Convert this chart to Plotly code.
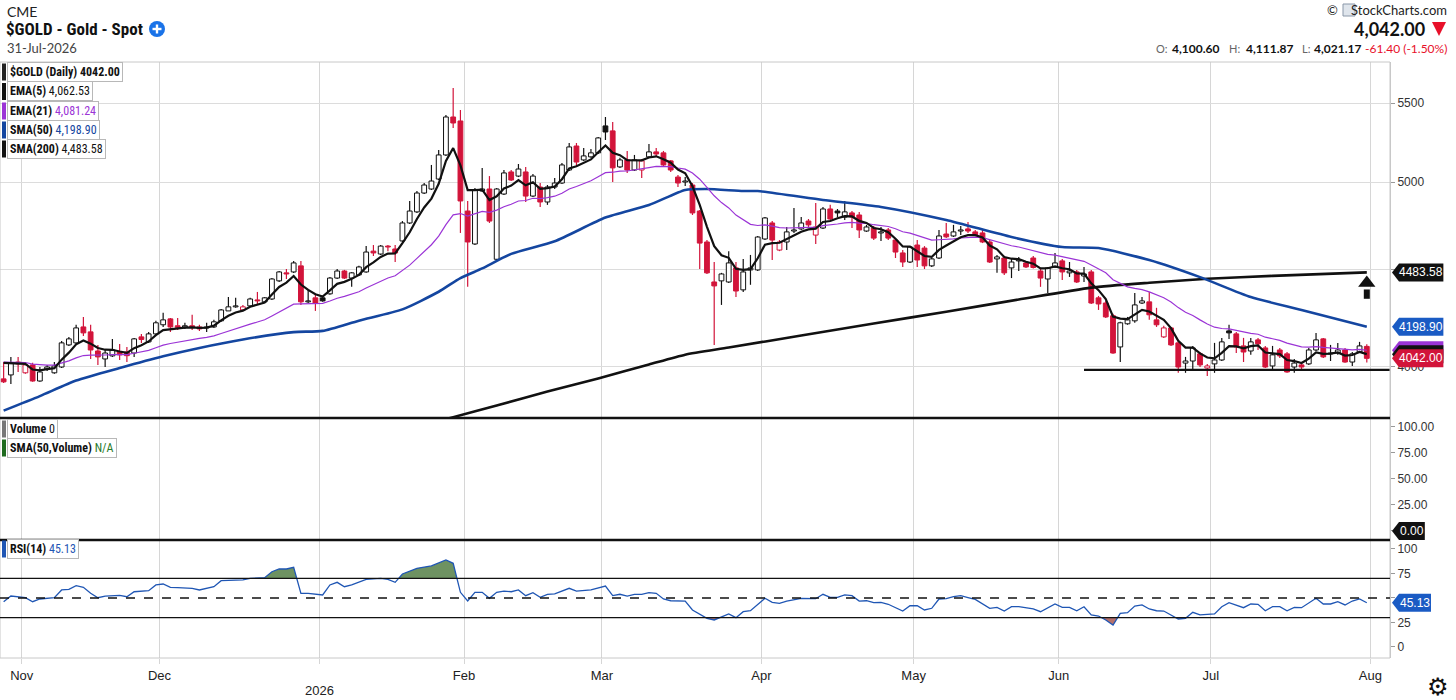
import math
import pandas as pd
import plotly.graph_objects as go

# ---------------------------------------------------------------- data
holidays = ["2025-11-27", "2025-12-25", "2026-01-01", "2026-01-19", "2026-02-16",
            "2026-04-03", "2026-05-25", "2026-06-19", "2026-07-03"]
sessions = [d for d in pd.bdate_range("2025-10-29", "2026-07-31")
            if d.strftime("%Y-%m-%d") not in holidays]

opens = [3943, 3962, 4024, 3972, 4010, 3933, 3990, 3972, 4000, 4108,
         4118, 4198, 4173, 4078, 4039, 4054, 4073, 4073, 4068, 4148,
         4123, 4163, 4209, 4239, 4204, 4198, 4204, 4198, 4193, 4198,
         4229, 4280, 4301, 4285, 4306, 4337, 4327, 4342, 4438, 4481,
         4486, 4519, 4327, 4348, 4348, 4369, 4453, 4491, 4453, 4470,
         4486, 4600, 4584, 4628, 4612, 4657, 4759, 4823, 4934, 4958,
         5018, 5166, 5408, 5382, 4828, 4640, 4946, 4958, 4555, 4928,
         5061, 5036, 5061, 4916, 4970, 4881, 4970, 4994, 5073, 5222,
         5135, 5154, 5179, 5350, 5318, 5092, 5135, 5073, 5073, 5154,
         5185, 5179, 5129, 5030, 5000, 4982, 4828, 4651, 4432, 4438,
         4432, 4508, 4390, 4497, 4497, 4668, 4759, 4606, 4651, 4713,
         4725, 4770, 4690, 4730, 4840, 4828, 4793, 4817, 4805, 4713,
         4730, 4702, 4719, 4662, 4590, 4540, 4634, 4617, 4519, 4562,
         4696, 4685, 4713, 4725, 4708, 4702, 4651, 4557, 4562, 4508,
         4546, 4535, 4562, 4491, 4448, 4513, 4546, 4481, 4486, 4464,
         4486, 4348, 4321, 4255, 4098, 4214, 4229, 4321, 4327, 4234,
         4148, 4193, 4118, 4019, 4029, 4064, 3995, 4015, 4034, 4178,
         4163, 4103, 4078, 4133, 4093, 4005, 4083, 4064, 4000, 4010,
         4015, 4083, 4138, 4064, 4068, 4083, 4024, 4073, 4100.60]
highs = [4024, 4049, 4049, 4020, 4020, 4000, 4010, 4024, 4128, 4148,
         4209, 4249, 4209, 4108, 4083, 4138, 4113, 4098, 4143, 4163,
         4173, 4229, 4270, 4244, 4244, 4219, 4260, 4209, 4219, 4234,
         4290, 4353, 4348, 4311, 4348, 4379, 4353, 4453, 4491, 4502,
         4546, 4546, 4390, 4364, 4358, 4459, 4502, 4497, 4486, 4519,
         4628, 4634, 4634, 4634, 4634, 4770, 4887, 4946, 4994, 5104,
         5197, 5421, 5600, 5454, 4887, 4964, 5086, 5036, 4964, 5073,
         5073, 5110, 5092, 5049, 4994, 4982, 5024, 5116, 5241, 5241,
         5210, 5203, 5279, 5408, 5376, 5148, 5191, 5166, 5141, 5235,
         5210, 5191, 5135, 5042, 5030, 4994, 4834, 4662, 4540, 4481,
         4600, 4540, 4557, 4579, 4685, 4793, 4770, 4662, 4736, 4845,
         4793, 4782, 4875, 4852, 4864, 4840, 4887, 4828, 4823, 4748,
         4742, 4736, 4730, 4673, 4606, 4628, 4662, 4628, 4562, 4719,
         4759, 4748, 4742, 4765, 4719, 4719, 4662, 4579, 4573, 4562,
         4568, 4546, 4573, 4502, 4513, 4590, 4557, 4540, 4497, 4513,
         4497, 4358, 4332, 4265, 4224, 4249, 4374, 4353, 4379, 4296,
         4204, 4198, 4128, 4049, 4103, 4073, 4015, 4118, 4143, 4209,
         4173, 4143, 4143, 4143, 4103, 4103, 4093, 4073, 4039, 4024,
         4093, 4168, 4143, 4108, 4118, 4093, 4073, 4123, 4111.87]
lows = [3924, 3919, 3976, 3967, 3929, 3929, 3981, 3967, 3995, 4103,
        4113, 4153, 4039, 4010, 4000, 4049, 4034, 4024, 4049, 4118,
        4118, 4158, 4198, 4173, 4183, 4188, 4183, 4178, 4173, 4193,
        4224, 4280, 4296, 4280, 4301, 4316, 4321, 4337, 4432, 4448,
        4480, 4311, 4321, 4280, 4327, 4364, 4448, 4448, 4406, 4465,
        4481, 4573, 4579, 4600, 4540, 4651, 4753, 4817, 4928, 4952,
        5012, 5160, 5336, 4702, 4406, 4634, 4940, 4759, 4551, 4922,
        5006, 5030, 4881, 4910, 4852, 4864, 4958, 4988, 5067, 5098,
        5129, 5148, 5172, 5260, 5000, 5086, 5055, 5067, 5024, 5148,
        5160, 5098, 5061, 4970, 4976, 4805, 4502, 4475, 4108, 4311,
        4427, 4353, 4379, 4417, 4491, 4662, 4551, 4600, 4606, 4702,
        4719, 4736, 4640, 4725, 4770, 4793, 4776, 4730, 4673, 4708,
        4662, 4657, 4662, 4562, 4513, 4535, 4513, 4502, 4513, 4556,
        4673, 4679, 4691, 4702, 4685, 4645, 4535, 4481, 4470, 4453,
        4491, 4508, 4505, 4406, 4374, 4508, 4443, 4459, 4427, 4432,
        4316, 4285, 4244, 4064, 4024, 4209, 4219, 4316, 4234, 4198,
        4143, 4103, 3972, 3972, 3990, 4000, 3957, 3972, 4029, 4138,
        4068, 4024, 4059, 4083, 3995, 3986, 4044, 3972, 3972, 3986,
        4010, 4078, 4044, 4029, 4059, 4020, 4005, 4068, 4021.17]
closes = [3929, 4019, 4015, 4010, 3933, 3976, 4000, 4005, 4118, 4138,
          4193, 4168, 4083, 4049, 4068, 4083, 4059, 4055, 4138, 4135,
          4163, 4219, 4234, 4198, 4196, 4204, 4198, 4188, 4198, 4224,
          4285, 4301, 4306, 4301, 4342, 4332, 4348, 4448, 4486, 4475,
          4535, 4327, 4332, 4321, 4332, 4453, 4491, 4453, 4481, 4513,
          4595, 4590, 4628, 4623, 4590, 4759, 4828, 4934, 4982, 5006,
          5166, 5408, 5369, 4887, 4651, 4952, 4958, 4770, 4958, 5055,
          5012, 5079, 4916, 5036, 4881, 4970, 4994, 5104, 5216, 5122,
          5160, 5179, 5273, 5311, 5086, 5135, 5073, 5135, 5129, 5185,
          5172, 5104, 5073, 4994, 5006, 4817, 4645, 4481, 4411, 4475,
          4535, 4384, 4486, 4508, 4679, 4788, 4662, 4651, 4708, 4719,
          4759, 4748, 4736, 4840, 4782, 4817, 4823, 4793, 4719, 4736,
          4673, 4708, 4673, 4595, 4540, 4623, 4551, 4519, 4557, 4685,
          4680, 4708, 4719, 4713, 4691, 4651, 4540, 4568, 4481, 4540,
          4551, 4513, 4510, 4453, 4508, 4535, 4486, 4491, 4432, 4475,
          4321, 4316, 4249, 4068, 4219, 4234, 4311, 4332, 4260, 4209,
          4193, 4108, 4000, 4029, 4093, 4010, 4005, 4034, 4123, 4168,
          4098, 4073, 4123, 4113, 4000, 4059, 4054, 3976, 4019, 4000,
          4083, 4133, 4049, 4068, 4083, 4024, 4064, 4103, 4042.00]

ema5_seed = 4020.0
ema21_seed = 4024.0

sma50_day = [0, 5, 10, 16, 22, 27, 33, 40, 44, 49, 55, 60, 63, 66, 70, 76, 83,
             89, 94, 97, 102, 104, 113, 121, 130, 139, 146, 151, 158, 165, 172, 179, 188]
sma50_val = [3795, 3862, 3935, 3995, 4052, 4093, 4135, 4172, 4178, 4230, 4288, 4380,
             4453, 4505, 4585, 4655, 4790, 4863, 4952, 4958, 4946, 4946, 4893, 4852,
             4776, 4679, 4623, 4617, 4551, 4458, 4352, 4285, 4198.90]
sma200_day = [57, 62, 68, 75, 82, 89, 94, 100, 110, 120, 130, 140, 150, 158, 166, 175, 188]
sma200_val = [3722, 3765, 3818, 3883, 3945, 4012, 4060, 4095, 4155, 4215, 4276, 4339,
              4402, 4428, 4449, 4465, 4483.58]

rsi_day = [0, 1, 3, 4, 5, 7, 8, 9, 10, 11,
           12, 13, 14, 16, 17, 18, 20, 21, 22, 23,
           24, 26, 27, 29, 30, 33, 34, 36, 37, 38,
           39, 40, 41, 42, 44, 45, 46, 47, 48, 49,
           50, 52, 53, 54, 55, 57, 59, 61, 62, 63,
           64, 65, 66, 67, 68, 69, 70, 71, 72, 73,
           74, 75, 76, 78, 79, 81, 82, 83, 84, 85,
           86, 87, 88, 89, 90, 91, 92, 94, 95, 97,
           98, 99, 100, 101, 102, 103, 105, 106, 107, 108,
           110, 112, 113, 114, 115, 116, 117, 118, 119, 120,
           121, 122, 124, 125, 126, 127, 128, 129, 130, 131,
           132, 133, 134, 136, 137, 138, 139, 140, 142, 143,
           145, 146, 147, 148, 149, 150, 151, 152, 153, 154,
           155, 156, 157, 158, 159, 160, 161, 162, 163, 164,
           165, 167, 168, 169, 171, 172, 173, 174, 175, 176,
           177, 178, 179, 180, 181, 182, 183, 184, 185, 186,
           187, 188]
rsi_val = [46.2, 52.0, 50.3, 46.2, 49.0, 50.3, 58.2, 58.9, 62.6, 60.9,
           54.8, 50.3, 52.0, 52.7, 51.3, 56.4, 57.5, 63.3, 64.3, 60.9,
           60.5, 59.9, 58.2, 61.5, 67.7, 68.4, 70.1, 70.7, 76.8, 79.6,
           79.6, 81.3, 54.8, 54.8, 53.1, 63.3, 66.0, 61.5, 63.3, 66.0,
           69.1, 70.1, 69.1, 66.0, 74.5, 80.3, 82.7, 88.8, 85.4, 55.8,
           47.0, 55.8, 55.8, 49.7, 55.8, 57.1, 56.4, 58.2, 52.4, 55.4,
           50.7, 53.8, 54.1, 59.9, 57.1, 58.2, 60.5, 62.2, 52.4, 53.8,
           52.0, 53.8, 53.8, 55.4, 54.8, 49.0, 47.2, 46.9, 37.8, 29.3,
           27.6, 30.3, 33.7, 29.9, 36.0, 37.0, 49.7, 45.6, 44.6, 46.9,
           49.7, 49.3, 53.8, 50.7, 50.7, 53.1, 52.4, 46.9, 47.2, 45.2,
           45.6, 43.6, 36.7, 42.1, 42.1, 37.8, 39.5, 49.0, 49.3, 51.3,
           52.4, 50.5, 48.5, 39.5, 40.5, 36.7, 41.1, 41.1, 38.8, 36.0,
           43.9, 40.5, 40.5, 37.0, 41.1, 32.7, 31.6, 27.6, 22.4, 34.4,
           35.0, 41.8, 42.9, 38.8, 37.0, 36.7, 32.7, 28.6, 29.3, 35.4,
           32.7, 33.7, 41.1, 45.2, 40.1, 43.9, 43.6, 37.0, 41.1, 41.1,
           37.0, 40.5, 40.1, 45.2, 49.7, 43.9, 43.9, 46.2, 42.9, 46.9,
           49.0, 45.13]

last_close = 4042.00
last_open, last_high, last_low = 4100.60, 4111.87, 4021.17
last_change, last_change_pct = -61.40, -1.50
last_ema5, last_ema21, last_sma50, last_sma200 = 4062.53, 4081.24, 4198.90, 4483.58
last_rsi = 45.13
last_volume = 0.0
rsi_levels = [30, 50, 70]

price_ticks = [4000, 4500, 5000, 5500]
price_tick_text = ["4000", "", "5000", "5500"]      # 4500 sits under the SMA(200) tag
vol_ticks = [0, 25, 50, 75, 100]
vol_tick_text = ["", "25.00", "50.00", "75.00", "100.00"]   # 0.00 shown by the tag
rsi_ticks = [0, 25, 50, 75, 100]
rsi_tick_text = ["0", "25", "", "75", "100"]       # 50 sits under the RSI tag

support_level = 3986
support_from = "2026-06-04"
arrow_base, arrow_tip = 4343, 4442
arrow_day = "2026-07-31"

# ---------------------------------------------------------------- helpers
N = len(closes)
days = list(range(N))
day_of = {d.strftime("%Y-%m-%d"): i for i, d in enumerate(sessions)}

X_LO, X_HI = -0.5, 191.2
P_LO, P_HI = 3761.3, 5778.9
V_LO, V_HI = -8.65, 108.65
R_LO, R_HI = -11.22, 109.18
PRICE_DOM = [0.402685, 1.0]
VOL_DOM = [0.197987, 0.402685]
RSI_DOM = [0.0, 0.197987]

PW, PT, PB = 1390.0, 62.0, 658.0
PH = PB - PT


def fx(px):
    return px / PW


def fy(py):
    return (PB - py) / PH


def price_paper(v):
    a, b = math.log10(P_LO), math.log10(P_HI)
    return PRICE_DOM[0] + (math.log10(v) - a) / (b - a) * (PRICE_DOM[1] - PRICE_DOM[0])


def vol_paper(v):
    return VOL_DOM[0] + (v - V_LO) / (V_HI - V_LO) * (VOL_DOM[1] - VOL_DOM[0])


def rsi_paper(v):
    return RSI_DOM[0] + (v - R_LO) / (R_HI - R_LO) * (RSI_DOM[1] - RSI_DOM[0])


def ema(vals, n, seed):
    k = 2.0 / (n + 1)
    out = [seed]
    for v in vals[1:]:
        out.append(out[-1] + k * (v - out[-1]))
    return out


RED = "#d2143a"
BLK = "#111111"
PURPLE = "#9b34d6"
BLUE = "#1446a0"
RSI_BLUE = "#1f56b4"
COND = "Roboto Condensed, Liberation Sans Narrow, DejaVu Sans Condensed, Roboto, sans-serif"
SANS = "Liberation Sans, Arial, sans-serif"
LATO = "Lato, Roboto, sans-serif"

fig = go.Figure()

# ---------------------------------------------------------------- candles
groups = {}
for i in days:
    up = i > 0 and closes[i] >= closes[i - 1]
    hollow = closes[i] > opens[i]
    groups.setdefault((up, hollow), []).append(i)
style = {(True, True): ("white", BLK), (True, False): (BLK, BLK),
         (False, True): ("white", RED), (False, False): (RED, RED)}
for key, idx in groups.items():
    fill, edge = style[key]
    fig.add_trace(go.Bar(
        x=idx, base=[min(opens[i], closes[i]) for i in idx],
        y=[max(abs(closes[i] - opens[i]), 1.5) for i in idx],
        width=0.66, marker=dict(color=fill, line=dict(color=edge, width=1)),
        xaxis="x", yaxis="y", hoverinfo="skip"))

for up_flag, col in ((True, BLK), (False, RED)):
    wx, wy = [], []
    for i in days:
        up = i > 0 and closes[i] >= closes[i - 1]
        if up != up_flag:
            continue
        top, bot = max(opens[i], closes[i]), min(opens[i], closes[i])
        wx += [i, i, None, i, i, None]
        wy += [highs[i], top, None, bot, lows[i], None]
    fig.add_trace(go.Scatter(x=wx, y=wy, mode="lines", line=dict(color=col, width=1.2),
                             xaxis="x", yaxis="y", hoverinfo="skip"))

# ---------------------------------------------------------------- overlays
fig.add_trace(go.Scatter(x=sma200_day, y=sma200_val, mode="lines",
                         line=dict(color=BLK, width=2.6, shape="spline", smoothing=0.6),
                         xaxis="x", yaxis="y"))
fig.add_trace(go.Scatter(x=sma50_day, y=sma50_val, mode="lines",
                         line=dict(color=BLUE, width=2.6, shape="spline", smoothing=0.6),
                         xaxis="x", yaxis="y"))
fig.add_trace(go.Scatter(x=days, y=ema(closes, 21, ema21_seed), mode="lines",
                         line=dict(color=PURPLE, width=1.2), xaxis="x", yaxis="y"))
fig.add_trace(go.Scatter(x=days, y=ema(closes, 5, ema5_seed), mode="lines",
                         line=dict(color=BLK, width=2.2), xaxis="x", yaxis="y"))

# support line and arrow (chart annotations)
fig.add_trace(go.Scatter(x=[day_of[support_from], X_HI], y=[support_level, support_level],
                         mode="lines", line=dict(color=BLK, width=2.4), xaxis="x", yaxis="y"))
ad = day_of[arrow_day]
fig.add_trace(go.Scatter(x=[ad, ad], y=[arrow_base, math.sqrt(arrow_base * arrow_tip)],
                         mode="lines", line=dict(color=BLK, width=6), xaxis="x", yaxis="y"))
fig.add_trace(go.Scatter(x=[ad], y=[arrow_tip * 0.9965], mode="markers",
                         marker=dict(symbol="triangle-up", size=15, color=BLK),
                         xaxis="x", yaxis="y"))

# volume panel (empty)
fig.add_trace(go.Scatter(x=[None], y=[None], xaxis="x", yaxis="y2"))


# ---------------------------------------------------------------- RSI
def band_polys(xs, ys, level, above):
    polys, cur = [], None
    for j in range(len(xs)):
        x1, y1 = xs[j], ys[j]
        inside = (y1 > level) if above else (y1 < level)
        if j > 0:
            x0, y0 = xs[j - 1], ys[j - 1]
            was = (y0 > level) if above else (y0 < level)
            if inside != was:
                t = (level - y0) / (y1 - y0)
                xc = x0 + t * (x1 - x0)
                if was:
                    cur[0].append(xc)
                    cur[1].append(level)
                    polys.append(cur)
                    cur = None
                else:
                    cur = [[xc], [level]]
        if inside:
            if cur is None:
                cur = [[x1], [level]]
            cur[0].append(x1)
            cur[1].append(y1)
    if cur:
        cur[0].append(xs[-1])
        cur[1].append(level)
        polys.append(cur)
    px_, py_ = [], []
    for p in polys:
        px_ += p[0] + [p[0][0], None]
        py_ += p[1] + [p[1][0], None]
    return px_, py_


ox, oy = band_polys(rsi_day, rsi_val, rsi_levels[2], True)
ux, uy = band_polys(rsi_day, rsi_val, rsi_levels[0], False)
fig.add_trace(go.Scatter(x=ox, y=oy, mode="lines", fill="toself", fillcolor="#6e9262",
                         line=dict(width=0), xaxis="x", yaxis="y3", hoverinfo="skip"))
fig.add_trace(go.Scatter(x=ux, y=uy, mode="lines", fill="toself", fillcolor="#b5716c",
                         line=dict(width=0), xaxis="x", yaxis="y3", hoverinfo="skip"))
fig.add_trace(go.Scatter(x=rsi_day, y=rsi_val, mode="lines", line=dict(color=RSI_BLUE, width=1.3),
                         xaxis="x", yaxis="y3"))

# ---------------------------------------------------------------- axes
month_ticks, month_text = [], []
for i in range(1, N):
    if sessions[i].month != sessions[i - 1].month:
        month_ticks.append(i - 0.5)
        month_text.append("" if sessions[i].month == 1 else sessions[i].strftime("%b"))
month_ticks.append(N - 0.5)
month_text.append((sessions[-1] + pd.offsets.MonthBegin(1)).strftime("%b"))
jan_tick = [t for t, s in zip(month_ticks, month_text) if s == ""][0]

tickfont = dict(family=SANS, size=12, color="#333")
common_y = dict(side="right", ticks="outside", ticklen=4, tickcolor="#999", zeroline=False,
                showline=True, linecolor="#c8c8c8", tickfont=tickfont, anchor="x", fixedrange=True)

fig.update_layout(
    width=1456, height=700, margin=dict(l=0, r=66, t=62, b=42),
    paper_bgcolor="white", plot_bgcolor="white", showlegend=False, barmode="overlay",
    xaxis=dict(range=[X_LO, X_HI], tickvals=month_ticks, ticktext=month_text, showgrid=True,
               gridcolor="#d6d6d6", zeroline=False, ticks="outside", ticklen=5, tickcolor="#d6d6d6",
               tickfont=dict(family=SANS, size=13, color="#222"), anchor="y3", showline=False,
               fixedrange=True),
    yaxis=dict(domain=PRICE_DOM, type="log", range=[math.log10(P_LO), math.log10(P_HI)],
               tickvals=price_ticks, ticktext=price_tick_text,
               showgrid=True, gridcolor="#dcdcdc", **common_y),
    yaxis2=dict(domain=VOL_DOM, range=[V_LO, V_HI], tickvals=vol_ticks,
                ticktext=vol_tick_text, showgrid=False, **common_y),
    yaxis3=dict(domain=RSI_DOM, range=[R_LO, R_HI], tickvals=rsi_ticks,
                ticktext=rsi_tick_text, showgrid=False, **common_y),
)

shapes = []
ann = []

# frame & separators
shapes.append(dict(type="rect", xref="paper", yref="paper", x0=0, x1=1, y0=0, y1=1,
                   line=dict(color="#c8c8c8", width=1)))
for yy in (PRICE_DOM[0], VOL_DOM[0]):
    shapes.append(dict(type="line", xref="paper", yref="paper", x0=0, x1=1, y0=yy, y1=yy,
                       line=dict(color=BLK, width=2.6)))
for lv in rsi_levels:
    shapes.append(dict(type="line", xref="paper", yref="y3", x0=0, x1=1, y0=lv, y1=lv,
                       line=dict(color=BLK, width=1.4, dash="dash" if lv == 50 else "solid")))


# value tags on the right axis
def tag(yc, text, color, show_text=True, tip=1392.0):
    w = 8 + 6.2 * len(text)
    h = 9.0 / PH
    path = (f"M {fx(tip)} {yc} L {fx(tip + 7)} {yc + h} L {fx(tip + w)} {yc + h} "
            f"L {fx(tip + w)} {yc - h} L {fx(tip + 7)} {yc - h} Z")
    shapes.append(dict(type="path", xref="paper", yref="paper", path=path,
                       fillcolor=color, line=dict(width=0), layer="above"))
    if show_text:
        ann.append(dict(xref="paper", yref="paper", x=fx(tip + 3.5 + w / 2), y=yc, text=text,
                        showarrow=False, xanchor="center", yanchor="middle",
                        font=dict(family=SANS, size=12, color="white")))


tag(price_paper(last_sma200), f"{last_sma200:.2f}", BLK)
tag(price_paper(last_sma50), f"{last_sma50:.2f}", "#1a5bc4")
tag(price_paper(last_ema21), f"{last_close:.2f}", PURPLE, show_text=False)
tag(price_paper(last_ema5), f"{last_close:.2f}", BLK, show_text=False)
tag(price_paper(last_close), f"{last_close:.2f}", RED)
tag(vol_paper(last_volume), f"{last_volume:.2f}", BLK)
tag(rsi_paper(last_rsi), f"{last_rsi:.2f}", "#1a5bc4")


# legend boxes
def legend_box(py, html, bar_color):
    ann.append(dict(xref="paper", yref="paper", x=fx(7), y=fy(py), text=html, showarrow=False,
                    xanchor="left", yanchor="middle", bgcolor="white", bordercolor="#b8b8b8",
                    borderwidth=1, borderpad=2, font=dict(family=COND, size=12, color=BLK)))
    shapes.append(dict(type="rect", xref="paper", yref="paper", x0=fx(2), x1=fx(6),
                       y0=fy(py + 8.5), y1=fy(py - 8.5), fillcolor=bar_color, line=dict(width=0),
                       layer="above"))


legend_box(72, f"<b>$GOLD (Daily) {last_close:.2f}</b>", "#222")
legend_box(91.5, f"<b>EMA(5)</b> {last_ema5:,.2f}", "#111")
legend_box(111, f"<b>EMA(21)</b> <span style='color:{PURPLE}'>{last_ema21:,.2f}</span>", PURPLE)
legend_box(130, f"<b>SMA(50)</b> <span style='color:{BLUE}'>{last_sma50:,.2f}</span>", BLUE)
legend_box(149, f"<b>SMA(200)</b> {last_sma200:,.2f}", "#111")
legend_box(429, f"<b>Volume</b> {last_volume:.0f}", "#777")
legend_box(448, "<b>SMA(50,Volume)</b> <span style='color:#2a7a2a'>N/A</span>", "#1f6b1f")
legend_box(549, f"<b>RSI(14)</b> <span style='color:{RSI_BLUE}'>{last_rsi:.2f}</span>", RSI_BLUE)

# x-axis year label
ann.append(dict(xref="x", yref="paper", x=jan_tick, y=fy(690), text=str(sessions[-1].year),
                showarrow=False, xanchor="center", yanchor="middle",
                font=dict(family=SANS, size=13, color="#222")))

# header
ann.append(dict(xref="paper", yref="paper", x=fx(5), y=fy(11), text="CME", showarrow=False,
                xanchor="left", yanchor="middle", font=dict(family=LATO, size=14, color="#222")))
ann.append(dict(xref="paper", yref="paper", x=fx(4), y=fy(29), text="<b>$GOLD - Gold - Spot</b>",
                showarrow=False, xanchor="left", yanchor="middle",
                font=dict(family=COND, size=17, color="#111")))
ann.append(dict(xref="paper", yref="paper", x=fx(5), y=fy(48),
                text=sessions[-1].strftime("%d-%b-%Y"), showarrow=False, xanchor="left",
                yanchor="middle", font=dict(family=LATO, size=13, color="#444")))
shapes.append(dict(type="circle", xref="paper", yref="paper", x0=fx(149), x1=fx(165),
                   y0=fy(37), y1=fy(21), fillcolor="#1a73e8", line=dict(width=0)))
shapes.append(dict(type="line", xref="paper", yref="paper", x0=fx(152.5), x1=fx(161.5),
                   y0=fy(29), y1=fy(29), line=dict(color="white", width=2.4)))
shapes.append(dict(type="line", xref="paper", yref="paper", x0=fx(157), x1=fx(157),
                   y0=fy(24.5), y1=fy(33.5), line=dict(color="white", width=2.4)))

ann.append(dict(xref="paper", yref="paper", x=fx(1449), y=fy(10), text="StockCharts.com",
                showarrow=False, xanchor="right", yanchor="middle",
                font=dict(family=LATO, size=13, color="#222")))
ann.append(dict(xref="paper", yref="paper", x=fx(1340), y=fy(10), text="©",
                showarrow=False, xanchor="right", yanchor="middle",
                font=dict(family=LATO, size=13, color="#222")))
shapes.append(dict(type="rect", xref="paper", yref="paper", x0=fx(1343), x1=fx(1355),
                   y0=fy(16), y1=fy(4), fillcolor="#dfe5ec", line=dict(color="#8a97a8", width=1)))
ann.append(dict(xref="paper", yref="paper", x=fx(1427), y=fy(29), text=f"<b>{last_close:,.2f}</b>",
                showarrow=False, xanchor="right", yanchor="middle",
                font=dict(family=LATO, size=18, color="#111")))
shapes.append(dict(type="path", xref="paper", yref="paper",
                   path=f"M {fx(1432)} {fy(22)} L {fx(1446)} {fy(22)} L {fx(1439)} {fy(36)} Z",
                   fillcolor="#e8102a", line=dict(width=0)))

# O / H / L / change line (right aligned segments)
ohlc_parts = [(1170, "O:", "#666", False), (1221, f"{last_open:,.2f}", "#111", True),
              (1242, "H:", "#666", False), (1295, f"{last_high:,.2f}", "#111", True),
              (1313, "L:", "#666", False), (1363, f"{last_low:,.2f}", "#111", True),
              (1449, f"{last_change:.2f} ({last_change_pct:.2f}%)", "#e8102a", False)]
for px, txt, col, bold in ohlc_parts:
    ann.append(dict(xref="paper", yref="paper", x=fx(px), y=fy(48),
                    text=f"<b>{txt}</b>" if bold else txt, showarrow=False, xanchor="right",
                    yanchor="middle",
                    font=dict(family=LATO, size=12 if col != "#666" else 11, color=col)))

ann.append(dict(xref="paper", yref="paper", x=fx(1438), y=fy(687), text="⚙", showarrow=False,
                xanchor="center", yanchor="middle",
                font=dict(family="DejaVu Sans", size=24, color="#111")))

fig.update_layout(shapes=shapes, annotations=ann)
fig.write_html("out.html", config={"displayModeBar": False},
               post_script="document.body.style.margin='0';document.body.style.overflow='hidden';")
